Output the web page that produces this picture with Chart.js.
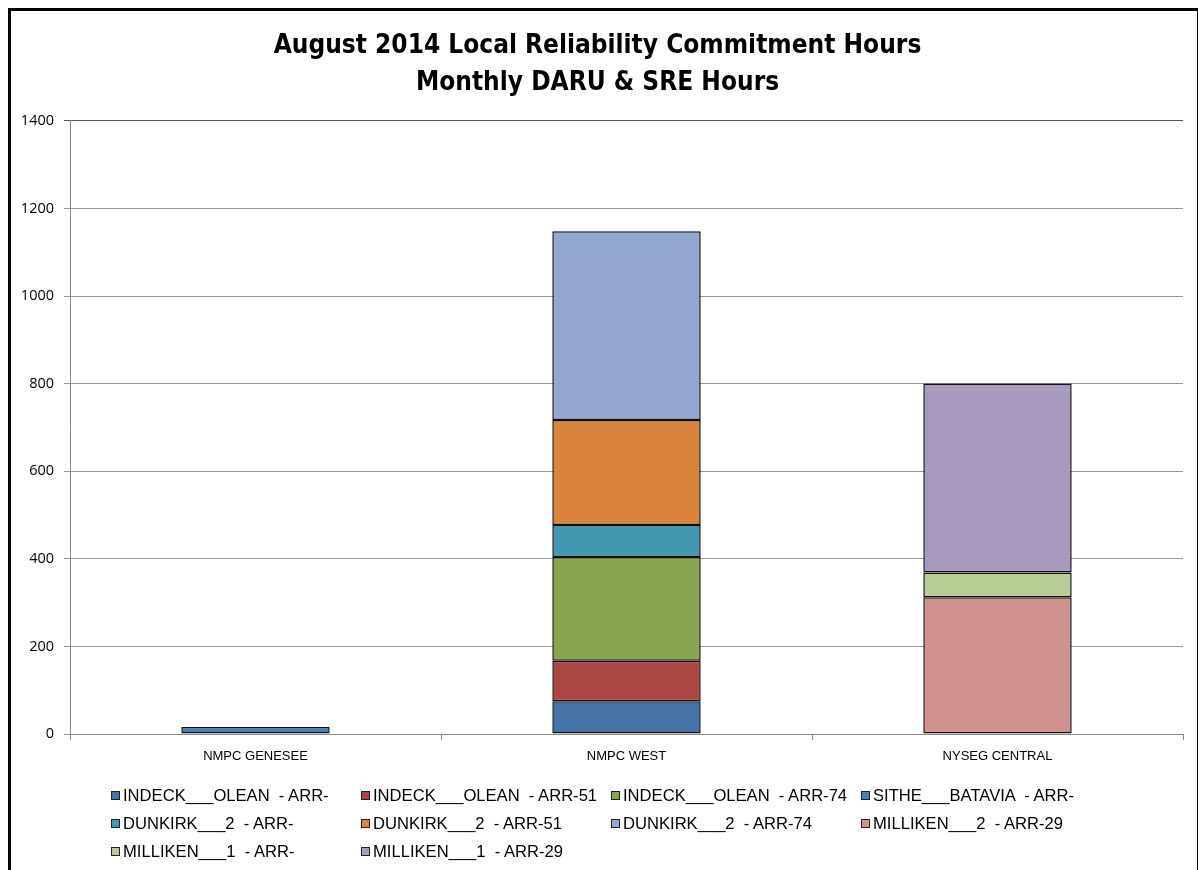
<!DOCTYPE html>
<html>
<head>
<meta charset="utf-8">
<script src="https://cdn.jsdelivr.net/npm/chart.js@4.4.1/dist/chart.umd.min.js"></script>
<style>
  html, body { margin: 0; padding: 0; background: #fff; }
  #wrap { position: relative; width: 1198px; height: 870px; overflow: hidden; }
  #chart { position: absolute; left: 0; top: 0; }
  #frame { position: absolute; left: 8px; top: 8px; width: 1186px; height: 900px;
           border: 3px solid #000; pointer-events: none; }
  #legend { position: absolute; left: 111px; top: 786px; font-family: "Liberation Sans", Arial, sans-serif;
            font-size: 16.6px; color: #000; }
  .item { position: absolute; white-space: pre; line-height: 19px; }
  .box { display: inline-block; width: 7px; height: 7px; border: 1px solid #222; margin-right: 3px;
         vertical-align: 1px; }
</style>
</head>
<body>
<div id="wrap">
  <canvas id="chart" width="1198" height="870"></canvas>
  <div id="legend"></div>
  <div id="frame"></div>
</div>
<script>
// categories
const zones = ['NMPC GENESEE', 'NMPC WEST', 'NYSEG CENTRAL'];

// hours per unit / arr, one value per zone
const indeckOlean = [null, 75, null];
const indeckOlean51 = [null, 92, null];
const indeckOlean74 = [null, 237, null];
const sitheBatavia = [16, null, null];
const dunkirk2 = [null, 73, null];
const dunkirk2_51 = [null, 240, null];
const dunkirk2_74 = [null, 431, null];
const milliken2_29 = [null, null, 312];
const milliken1 = [null, null, 57];
const milliken1_29 = [null, null, 431];

const yTicks = [0, 200, 400, 600, 800, 1000, 1200, 1400];

const series = [
    { label: 'INDECK___OLEAN  - ARR-', data: indeckOlean, color: '#4572A7' },
    { label: 'INDECK___OLEAN  - ARR-51', data: indeckOlean51, color: '#AA4643' },
    { label: 'INDECK___OLEAN  - ARR-74', data: indeckOlean74, color: '#89A54E' },
    { label: 'SITHE___BATAVIA  - ARR-', data: sitheBatavia, color: '#4A7EBB' },
    { label: 'DUNKIRK___2  - ARR-', data: dunkirk2, color: '#4198AF' },
    { label: 'DUNKIRK___2  - ARR-51', data: dunkirk2_51, color: '#DB843D' },
    { label: 'DUNKIRK___2  - ARR-74', data: dunkirk2_74, color: '#93A9CF' },
    { label: 'MILLIKEN___2  - ARR-29', data: milliken2_29, color: '#D19392' },
    { label: 'MILLIKEN___1  - ARR-', data: milliken1, color: '#B9CD96' },
    { label: 'MILLIKEN___1  - ARR-29', data: milliken1_29, color: '#A99BBD' }
];

const chart = new Chart(document.getElementById('chart'), {
    type: 'bar',
    data: {
        labels: zones,
        datasets: series.map(s => ({
            label: s.label,
            data: s.data,
            backgroundColor: s.color,
            borderColor: '#111',
            borderWidth: 1.5,
            borderSkipped: false,
            categoryPercentage: 1,
            barPercentage: 0.4
        }))
    },
    options: {
        responsive: false,
        animation: false,
        layout: { padding: { left: 12, right: 15, top: 0, bottom: 96 } },
        plugins: {
            legend: { display: false },
            tooltip: { enabled: false },
            title: {
                display: true,
                text: ['August 2014 Local Reliability Commitment Hours', 'Monthly DARU & SRE Hours'],
                color: '#000',
                font: { family: '"Liberation Sans Narrow", "DejaVu Sans Condensed", sans-serif', size: 26, weight: 'bold', lineHeight: 1.42 },
                padding: { top: 28, bottom: 19 }
            }
        },
        scales: {
            x: {
                stacked: true,
                grid: { offset: true, drawOnChartArea: false, color: '#888', tickLength: 6 },
                border: { color: '#888' },
                ticks: { color: '#000', padding: 9, font: { family: '"Liberation Sans", Arial, sans-serif', size: 13 } },
                afterFit: s => { s.height = 40; }
            },
            y: {
                stacked: true,
                min: 0,
                max: 1400,
                afterBuildTicks: s => { s.ticks = yTicks.map(v => ({ value: v })); },
                grid: { color: ctx => ctx.tick && ctx.tick.value === 1400 ? '#555' : '#999', tickLength: 6 },
                border: { color: '#888' },
                ticks: {
                    color: '#000', padding: 10,
                    font: { family: '"Open Sans", sans-serif', size: 14.5 },
                    callback: v => String(v)
                },
                afterFit: s => { s.width = 58; }
            }
        }
    }
});

// legend laid out as a 4-column grid like the original
const legend = document.getElementById('legend');
chart.data.datasets.forEach((ds, i) => {
    const el = document.createElement('div');
    el.className = 'item';
    el.style.left = (i % 4) * 250 + 'px';
    el.style.top = Math.floor(i / 4) * 28 + 'px';
    el.innerHTML = '<span class="box" style="background:' + ds.backgroundColor + '"></span>' + ds.label;
    legend.appendChild(el);
});
</script>
</body>
</html>
